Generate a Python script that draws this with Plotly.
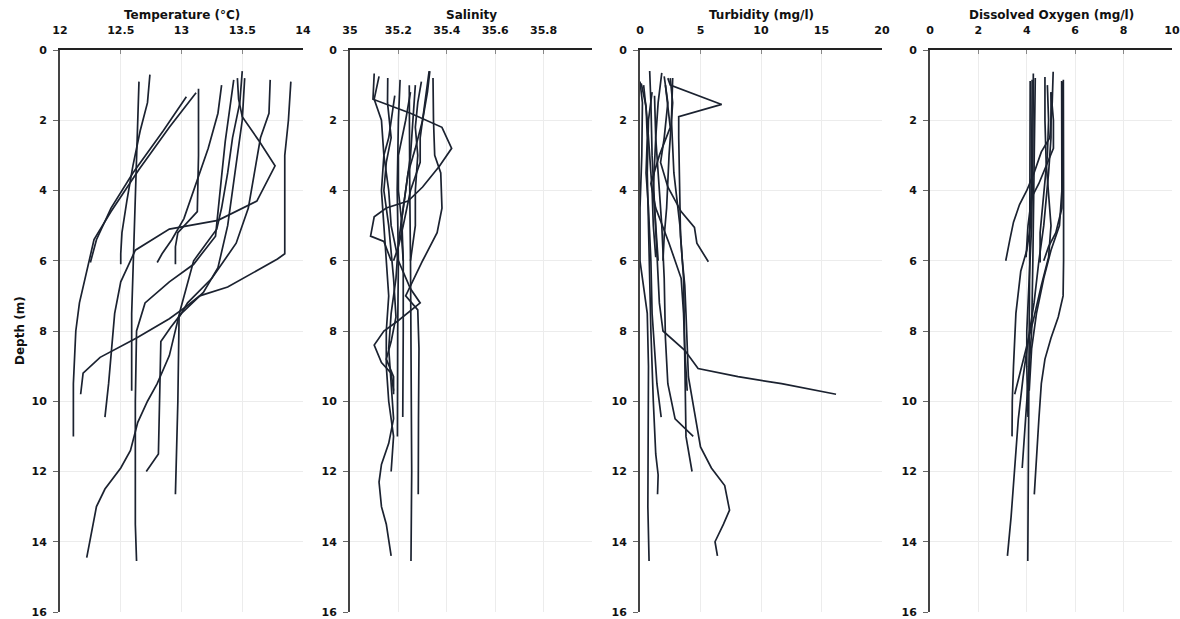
import plotly.graph_objects as go

# ---------------- DATA ----------------
# Each profile: list of values and list of matching depths (m)
temp_values = [
    [12.65, 12.64, 12.62, 12.60, 12.59, 12.59, 12.59],
    [12.74, 12.72, 12.66, 12.60, 12.55, 12.51, 12.50, 12.50],
    [13.04, 12.85, 12.60, 12.42, 12.30, 12.25],
    [13.12, 12.90, 12.65, 12.42, 12.28, 12.22, 12.16, 12.13, 12.11, 12.11],
    [13.14, 13.14, 13.13, 13.05, 12.97, 12.95, 12.95],
    [13.33, 13.30, 13.22, 13.12, 13.02, 12.92, 12.84, 12.80],
    [13.43, 13.40, 13.36, 13.33, 13.30, 13.28, 13.10, 12.90, 12.70, 12.63, 12.62, 12.62, 12.62, 12.63],
    [13.46, 13.47, 13.50, 13.64, 13.77, 13.62, 13.30, 12.90, 12.62, 12.50, 12.45, 12.40, 12.37],
    [13.50, 13.48, 13.42, 13.38, 13.33, 13.29, 13.10, 12.99, 12.90, 12.80, 12.72, 12.64, 12.58, 12.50, 12.37, 12.30, 12.22],
    [13.52, 13.50, 13.44, 13.38, 13.30, 13.18, 13.00, 12.91, 12.83, 12.82, 12.81, 12.71],
    [13.73, 13.72, 13.65, 13.60, 13.55, 13.45, 13.25, 13.05, 12.98, 12.97, 12.95],
    [13.90, 13.88, 13.85, 13.85, 13.85, 13.79, 13.66, 13.38, 13.15, 13.04, 12.90, 12.63, 12.33, 12.19, 12.17],
]
temp_depths = [
    [0.9, 2.0, 4.0, 6.0, 7.5, 8.5, 9.7],
    [0.7, 1.5, 2.3, 3.3, 4.3, 5.2, 5.8, 6.1],
    [1.33, 2.3, 3.5, 4.5, 5.4, 6.05],
    [1.22, 2.2, 3.4, 4.6, 5.4, 6.3, 7.2, 8.0, 9.5, 11.0],
    [1.1, 3.0, 4.6, 4.9, 5.2, 5.6, 6.1],
    [1.0, 1.8, 2.8, 3.8, 4.8, 5.4, 5.8, 6.05],
    [0.85, 1.6, 2.6, 3.6, 4.6, 5.3, 6.1, 6.6, 7.2, 8.0, 10.0, 12.0, 13.5, 14.55],
    [0.8, 1.4, 1.9, 2.6, 3.3, 4.3, 4.85, 5.1, 5.7, 6.6, 7.5, 9.5, 10.45],
    [0.6, 1.5, 2.5, 3.5, 4.5, 5.1, 6.0, 7.4, 8.7, 9.5, 10.0, 10.6, 11.4, 11.9, 12.5, 13.0, 14.45],
    [0.8, 2.0, 3.5, 5.0, 6.2, 6.9, 7.5, 7.9, 8.3, 10.0, 11.5, 12.0],
    [0.85, 1.8, 2.5, 3.5, 4.5, 5.5, 6.5, 7.2, 7.6, 10.0, 12.65],
    [0.9, 2.0, 3.0, 4.5, 5.8, 5.95, 6.2, 6.75, 7.0, 7.3, 7.65, 8.2, 8.75, 9.2, 9.8],
]

sal_values = [
    [35.245, 35.245, 35.247, 35.250, 35.252, 35.255, 35.255, 35.252],
    [35.330, 35.320, 35.300, 35.270, 35.240, 35.220, 35.200, 35.190, 35.170, 35.160, 35.170, 35.180, 35.160, 35.130, 35.120, 35.130, 35.150, 35.170],
    [35.343, 35.345, 35.350, 35.375, 35.380, 35.360, 35.300, 35.250, 35.230, 35.280, 35.285, 35.283, 35.282],
    [35.100, 35.095, 35.250, 35.380, 35.420, 35.370, 35.300, 35.240, 35.150, 35.100, 35.085, 35.140, 35.170],
    [35.120, 35.100, 35.130, 35.140, 35.160, 35.170, 35.200, 35.250, 35.290, 35.200, 35.140, 35.100, 35.130, 35.170, 35.180],
    [35.156, 35.155, 35.170, 35.150, 35.140, 35.160, 35.180, 35.190, 35.170, 35.150, 35.180, 35.180],
    [35.207, 35.200, 35.195, 35.200, 35.197, 35.196, 35.196],
    [35.250, 35.230, 35.200, 35.200, 35.215, 35.220, 35.220, 35.218],
    [35.185, 35.160, 35.140, 35.130, 35.140, 35.150, 35.160, 35.150, 35.150, 35.160, 35.180, 35.170],
    [35.295, 35.280, 35.270, 35.280, 35.270, 35.270, 35.250],
    [35.327, 35.310, 35.290, 35.290, 35.250, 35.220, 35.200, 35.180],
    [35.270, 35.260, 35.250, 35.230, 35.210, 35.220],
]
sal_depths = [
    [1.0, 2.0, 4.0, 6.0, 8.0, 10.0, 12.0, 14.55],
    [0.6, 1.2, 2.0, 2.8, 3.5, 4.5, 5.5, 6.5, 7.5, 8.5, 9.5, 10.5, 11.2, 11.8, 12.3, 13.0, 13.5, 14.4],
    [0.8, 2.0, 3.0, 3.5, 4.5, 5.2, 6.0, 6.7, 7.0, 7.4, 8.5, 10.5, 12.65],
    [0.67, 1.4, 1.8, 2.2, 2.8, 3.3, 3.9, 4.3, 4.5, 4.75, 5.3, 5.45, 6.0],
    [0.75, 1.4, 2.0, 3.0, 4.0, 5.0, 6.0, 6.8, 7.2, 7.7, 8.0, 8.4, 8.9, 9.2, 9.7],
    [0.8, 1.5, 2.5, 3.2, 4.0, 5.0, 6.5, 7.6, 8.3, 8.8, 9.3, 9.8],
    [0.85, 2.0, 4.0, 6.0, 8.0, 10.0, 11.0],
    [1.2, 2.0, 3.0, 4.0, 5.0, 6.0, 8.0, 10.45],
    [1.3, 2.5, 3.0, 4.0, 5.0, 6.0, 7.0, 8.0, 9.0, 10.0, 11.0, 12.0],
    [0.9, 1.5, 2.2, 3.0, 4.0, 5.0, 6.0],
    [0.6, 1.5, 2.5, 3.2, 4.0, 5.0, 5.6, 6.0],
    [1.0, 2.0, 3.0, 4.0, 5.0, 6.0],
]

turb_values = [
    [2.3, 2.5, 6.75, 3.2, 3.2, 3.25, 3.3, 3.35, 3.5, 3.7, 3.8, 3.9, 4.0, 4.5, 5.0, 5.9, 7.0, 7.4, 6.9, 6.2, 6.4],
    [0.8, 0.9, 1.0, 1.2, 1.4, 1.6, 1.9, 3.7, 4.8, 8.1, 11.7, 16.2],
    [2.0, 2.3, 2.0, 1.7, 2.3, 3.4, 4.5, 4.7, 5.65],
    [1.8, 1.5, 1.3, 1.5, 1.8, 2.0, 2.1, 2.3, 2.9, 4.4],
    [2.7, 2.6, 2.8, 3.3, 3.6, 3.65, 3.7, 3.8, 4.3],
    [1.0, 0.7, 0.6, 0.7, 0.8, 0.9, 1.1, 1.3, 1.5, 1.45],
    [0.0, 0.2, 0.15, 0.0, 0.0, 0.3, 0.6, 0.7, 0.7, 0.65, 0.75],
    [0.1, 0.5, 0.6, 0.5, 0.7, 0.9, 1.0, 1.2, 1.4, 1.75],
    [2.1, 2.5, 1.6, 0.9, 1.3, 2.4, 3.4, 3.6, 3.7, 3.9],
    [1.2, 1.3, 1.1, 1.3, 1.5],
    [2.5, 2.7, 2.4, 2.2, 2.0, 1.9],
    [0.3, 0.6, 0.8, 1.0, 1.1, 1.3],
]
turb_depths = [
    [0.8, 1.0, 1.55, 1.9, 2.5, 3.5, 4.5, 5.3, 6.0, 6.7, 7.5, 8.5, 9.3, 10.3, 11.3, 11.9, 12.4, 13.1, 13.5, 14.0, 14.4],
    [0.6, 1.5, 3.0, 4.5, 6.0, 7.2, 8.0, 8.55, 9.07, 9.3, 9.5, 9.8],
    [0.75, 1.5, 2.5, 3.2, 3.9, 4.6, 5.05, 5.5, 6.03],
    [0.65, 1.5, 2.5, 3.5, 5.0, 6.5, 8.2, 9.5, 10.5, 11.0],
    [0.8, 2.0, 3.5, 5.0, 6.5, 8.0, 9.5, 11.0, 12.0],
    [1.2, 2.0, 3.5, 5.0, 6.5, 8.0, 10.0, 11.5, 12.1, 12.65],
    [0.9, 1.5, 3.0, 4.5, 6.0, 6.8, 7.5, 9.0, 11.0, 13.0, 14.55],
    [0.95, 1.6, 2.5, 3.5, 4.5, 6.0, 7.5, 8.5, 9.5, 10.45],
    [1.0, 2.2, 3.0, 3.8, 4.5, 5.5, 6.5, 7.5, 8.5, 9.7],
    [1.3, 2.5, 4.0, 5.0, 6.0],
    [0.8, 1.5, 3.0, 4.5, 5.3, 6.0],
    [1.0, 2.0, 3.0, 4.0, 5.0, 5.9],
]

do_values = [
    [5.0, 5.0, 4.9, 4.7, 4.5, 4.3, 4.05, 3.85, 3.65, 3.5, 3.35, 3.2],
    [4.14, 4.14, 4.13, 4.12, 4.10, 4.08, 4.05, 4.04],
    [5.09, 5.05, 4.95, 4.6, 4.3, 4.0, 3.7, 3.45, 3.3, 3.13],
    [4.22, 4.22, 4.20, 4.15, 4.0, 3.75, 3.55, 3.45, 3.40, 3.39],
    [4.75, 4.75, 4.8, 4.9, 5.0, 4.9, 4.6, 4.3, 4.0, 3.7, 3.5],
    [4.35, 4.33, 4.30, 4.25, 4.20, 4.05, 3.90, 3.81],
    [5.51, 5.52, 5.52, 5.52, 5.50, 5.30, 5.00, 4.75, 4.60, 4.50, 4.40, 4.31],
    [5.44, 5.45, 5.45, 5.35, 5.0, 4.7, 4.4, 4.2, 4.1],
    [4.27, 4.27, 4.25, 4.20, 4.10, 4.00, 4.00, 4.05],
    [4.85, 4.90, 4.85, 4.75, 4.65, 4.55, 4.55],
    [5.0, 5.1, 5.1, 4.8, 4.5, 4.2, 4.05, 3.97],
    [5.47, 5.48, 5.45, 5.20, 4.90, 4.70],
]
do_depths = [
    [1.2, 2.5, 3.5, 5.0, 6.0, 7.2, 8.3, 9.3, 10.5, 12.0, 13.3, 14.4],
    [0.88, 2.0, 4.0, 6.0, 8.0, 10.0, 12.0, 14.55],
    [0.62, 1.5, 2.5, 2.9, 3.5, 4.0, 4.4, 4.9, 5.4, 6.0],
    [0.85, 2.0, 3.5, 5.0, 5.7, 6.3, 7.5, 9.0, 10.0, 11.0],
    [0.77, 2.0, 3.2, 4.0, 5.0, 5.9, 6.7, 7.6, 8.4, 9.2, 9.8],
    [0.8, 2.0, 4.0, 6.0, 8.0, 9.5, 10.8, 11.9],
    [0.85, 2.0, 4.0, 6.0, 7.0, 7.6, 8.2, 8.8, 9.5, 10.5, 11.5, 12.65],
    [0.88, 2.0, 4.0, 5.0, 5.7, 6.5, 7.5, 8.5, 9.7],
    [0.67, 2.0, 3.0, 5.0, 6.5, 8.0, 9.0, 10.45],
    [1.0, 2.0, 3.0, 3.8, 4.6, 5.2, 6.05],
    [1.2, 2.0, 2.8, 3.3, 3.8, 4.2, 5.0, 5.9],
    [0.9, 3.0, 4.5, 5.2, 5.6, 6.0],
]

panel_titles = ["Temperature (\u00b0C)", "Salinity", "Turbidity (mg/l)", "Dissolved Oxygen (mg/l)"]
x_ranges = [[12, 14], [35, 36], [0, 20], [0, 10]]
x_tickvals = [[12, 12.5, 13, 13.5, 14], [35, 35.2, 35.4, 35.6, 35.8], [0, 5, 10, 15, 20], [0, 2, 4, 6, 8, 10]]
x_ticktext = [["12", "12.5", "13", "13.5", "14"], ["35", "35.2", "35.4", "35.6", "35.8"],
              ["0", "5", "10", "15", "20"], ["0", "2", "4", "6", "8", "10"]]
depth_ticks = [0, 2, 4, 6, 8, 10, 12, 14, 16]
y_title = "Depth (m)"

# ---------------- FIGURE ----------------
W, H = 1180, 619
panel_px = [(60, 303), (350, 592), (640, 882), (930, 1172)]
line_color = "#1b2230"
font_family = "DejaVu Sans, Verdana, sans-serif"

fig = go.Figure()
all_vals = [temp_values, sal_values, turb_values, do_values]
all_deps = [temp_depths, sal_depths, turb_depths, do_depths]

for i in range(4):
    xa = "x" if i == 0 else f"x{i+1}"
    ya = "y" if i == 0 else f"y{i+1}"
    for vals, deps in zip(all_vals[i], all_deps[i]):
        fig.add_trace(go.Scatter(x=vals, y=deps, mode="lines", xaxis=xa, yaxis=ya,
                                 line=dict(color=line_color, width=1.7), showlegend=False,
                                 hoverinfo="skip"))

layout = dict(
    width=W, height=H,
    margin=dict(l=0, r=0, t=50, b=7, autoexpand=False),
    paper_bgcolor="white", plot_bgcolor="white",
    font=dict(family=font_family, size=11, color="#111"),
    showlegend=False,
)
for i in range(4):
    xk = "xaxis" if i == 0 else f"xaxis{i+1}"
    yk = "yaxis" if i == 0 else f"yaxis{i+1}"
    ya = "y" if i == 0 else f"y{i+1}"
    xa = "x" if i == 0 else f"x{i+1}"
    x0, x1 = panel_px[i]
    layout[xk] = dict(
        domain=[x0 / W, x1 / W], range=x_ranges[i], anchor=ya, side="top",
        tickvals=x_tickvals[i], ticktext=x_ticktext[i], automargin=False,
        ticklabeloverflow="allow",
        showline=True, linecolor="#222", linewidth=2,
        ticks="inside", ticklen=4, tickcolor="#888", tickwidth=1,
        ticklabelstandoff=10,
        showgrid=True, gridcolor="#ececec", gridwidth=1, zeroline=False,
        tickfont=dict(family=font_family, size=11, color="#111", weight="bold"),
        fixedrange=True,
    )
    layout[yk] = dict(
        domain=[0, 1], range=[16, 0], anchor=xa, automargin=False,
        tickvals=depth_ticks, ticktext=[str(t) for t in depth_ticks],
        showline=True, linecolor="#444", linewidth=2,
        ticks="outside", ticklen=5, tickcolor="#666", tickwidth=1,
        ticklabelstandoff=4,
        showgrid=True, gridcolor="#ececec", gridwidth=1, zeroline=False,
        tickfont=dict(family=font_family, size=11, color="#111", weight="bold"),
        fixedrange=True,
    )
    fig.add_annotation(text=f"<b>{panel_titles[i]}</b>", xref="paper", yref="paper",
                       x=(x0 + x1) / 2 / W, y=1, yshift=35, xanchor="center", yanchor="middle",
                       showarrow=False, font=dict(family=font_family, size=12, color="#111"))

fig.add_annotation(text=f"<b>{y_title}</b>", xref="paper", yref="paper",
                   x=20 / W, y=0.5, xanchor="center", yanchor="middle", textangle=-90,
                   showarrow=False, font=dict(family=font_family, size=12, color="#111"))
fig.update_layout(**layout)

fig.write_html("out.html", config={"displayModeBar": False},
               post_script="document.body.style.margin='0';document.body.style.padding='0';")
